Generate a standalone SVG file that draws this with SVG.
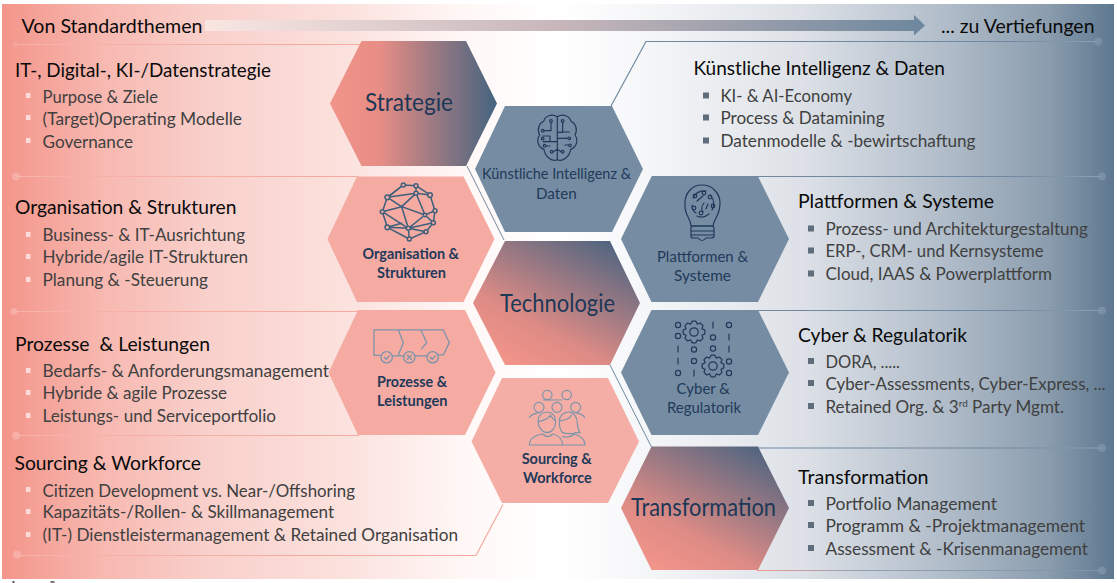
<svg xmlns="http://www.w3.org/2000/svg" width="1117" height="583" viewBox="0 0 1117 583">
<style>
text{font-family:"Lato","Liberation Sans",sans-serif}
.t{font-size:20px;fill:#0a0a0a}
.i{font-size:17px;fill:#404040}
.n{font-size:14.500px;fill:#1f3a5a;text-anchor:start}
.b{font-weight:700}
.big{font-size:24.500px;fill:#1c3857}
.bl{fill:#fbdcd8}
.br{fill:#5f6c7b}
.lineL{stroke:url(#fadeL);stroke-width:1.2;fill:none}
.lineR{stroke:url(#fadeR);stroke-width:1.2;fill:none}
.dotL{fill:#f7b3ab}
.dotR{fill:#7f95a9;opacity:.75}
.ic{fill:none;stroke-linecap:round;stroke-linejoin:round}
</style>
<defs>
<linearGradient id="bg" gradientUnits="userSpaceOnUse" x1="2" y1="0" x2="1114" y2="0">
<stop offset="0" stop-color="#f4958a"/>
<stop offset="0.09" stop-color="#f7b8b0"/>
<stop offset="0.18" stop-color="#f9cfca"/>
<stop offset="0.3" stop-color="#fbe0dc"/>
<stop offset="0.42" stop-color="#fff8f7"/>
<stop offset="0.5" stop-color="#ffffff"/>
<stop offset="0.58" stop-color="#f5f6f8"/>
<stop offset="0.72" stop-color="#dde1e7"/>
<stop offset="0.85" stop-color="#b0bcc9"/>
<stop offset="0.94" stop-color="#8b9dae"/>
<stop offset="1" stop-color="#5e7890"/>
</linearGradient>
<linearGradient id="arrow" gradientUnits="userSpaceOnUse" x1="205" y1="0" x2="925" y2="0">
<stop offset="0" stop-color="#f9e6e3"/>
<stop offset="0.5" stop-color="#c6b6ba"/>
<stop offset="1" stop-color="#6d879e"/>
</linearGradient>
<linearGradient id="gs" x1="0" y1="0" x2="1" y2="0">
<stop offset="0" stop-color="#f2948a"/>
<stop offset="0.3" stop-color="#e78d85"/>
<stop offset="1" stop-color="#44637f"/>
</linearGradient>
<linearGradient id="gd" x1="0.15" y1="0.95" x2="0.85" y2="0">
<stop offset="0" stop-color="#f2948a"/>
<stop offset="0.3" stop-color="#dd8b85"/>
<stop offset="1" stop-color="#4d6480"/>
</linearGradient>
<linearGradient id="fadeL" gradientUnits="userSpaceOnUse" x1="15" y1="0" x2="360" y2="0">
<stop offset="0" stop-color="#f7b3ab"/>
<stop offset="1" stop-color="#f5a99f"/>
</linearGradient>
<linearGradient id="fadeR" gradientUnits="userSpaceOnUse" x1="650" y1="0" x2="1100" y2="0">
<stop offset="0" stop-color="#6f88a0"/>
<stop offset="0.8" stop-color="#7089a0"/>
<stop offset="1" stop-color="#8fa2b4"/>
</linearGradient>
<linearGradient id="fadeB" gradientUnits="userSpaceOnUse" x1="758" y1="0" x2="1100" y2="0">
<stop offset="0" stop-color="#ee9a90"/>
<stop offset="0.3" stop-color="#8fa0b3"/>
<stop offset="1" stop-color="#7f95a9"/>
</linearGradient>
<polygon id="gear" points="10.8,1.9 7.9,3.3 9,6.3 6.3,9 3.3,7.9 1.9,10.8 -1.9,10.8 -3.3,7.9 -6.3,9 -9,6.3 -7.9,3.3 -10.8,1.9 -10.8,-1.9 -7.9,-3.3 -9,-6.3 -6.3,-9 -3.3,-7.9 -1.9,-10.8 1.9,-10.8 3.3,-7.9 6.3,-9 9,-6.3 7.9,-3.3 10.8,-1.9"/>
</defs>

<rect x="2" y="4" width="1112" height="575" fill="url(#bg)"/>
<rect x="12.500" y="581" width="2" height="2" fill="#555"/><rect x="50.500" y="581" width="4" height="2" fill="#777"/>

<g id="connectors">
<path id="timeline-arrow" d="M205 20H914V15L925 25.500L914 35.500V31H205Z" fill="url(#arrow)"/>
<path class="lineL" d="M15 44.500H361"/><circle class="dotL" cx="15" cy="44.500" r="3" opacity=".35"/>
<path class="lineL" d="M16 176.500H358"/><circle class="dotL" cx="16" cy="176.500" r="4" opacity=".8"/>
<path class="lineL" d="M14 311.500H359"/><circle class="dotL" cx="14" cy="311.500" r="3.500" opacity=".8"/>
<path class="lineL" d="M16 435.500H359"/><circle class="dotL" cx="16" cy="435.500" r="4" opacity=".8"/>
<path class="lineL" d="M17 555.500H476L503 504.500"/><circle class="dotL" cx="17" cy="554.500" r="4" opacity=".8"/>
<path d="M467 166L504 240" stroke="#7089a0" stroke-width="1" fill="none"/>
<path d="M610 365L651.500 447" stroke="#7089a0" stroke-width="1" fill="none"/>
<path class="lineR" d="M611 106L646 41.500H1098"/><circle class="dotR" cx="1098" cy="41.500" r="4"/>
<path class="lineR" d="M652 176.500H1102"/><circle class="dotR" cx="1102" cy="176.500" r="4"/>
<path class="lineR" d="M652 310.500H1102"/><circle class="dotR" cx="1102" cy="310.500" r="4"/>
<path class="lineR" d="M652 448H1102"/><circle class="dotR" cx="1102" cy="448" r="4"/>
<path d="M757 570.500H1102" stroke="url(#fadeB)" stroke-width="1.2" fill="none"/><circle class="dotR" cx="1102" cy="570.500" r="4"/>
</g>

<g id="header">
<text class="t" x="21.500" y="33" textLength="181" lengthAdjust="spacingAndGlyphs">Von Standardthemen</text>
<text class="t" x="941" y="33" textLength="153.500" lengthAdjust="spacingAndGlyphs">... zu Vertiefungen</text>
</g>

<g id="panel-strategie">
<text class="t" x="15" y="77" textLength="256" lengthAdjust="spacingAndGlyphs">IT-, Digital-, KI-/Datenstrategie</text>
<rect class="bl" x="26" y="93" width="4.500" height="5"/><rect class="bl" x="26" y="115" width="4.500" height="5"/><rect class="bl" x="26" y="138" width="4.500" height="5"/>
<text class="i" x="42.500" y="103" textLength="115.500" lengthAdjust="spacingAndGlyphs">Purpose &amp; Ziele</text>
<text class="i" x="42.500" y="125" textLength="199.500" lengthAdjust="spacingAndGlyphs">(Target)Operating Modelle</text>
<text class="i" x="42.500" y="148" textLength="90.500" lengthAdjust="spacingAndGlyphs">Governance</text>
</g>
<g id="panel-organisation">
<text class="t" x="15" y="214" textLength="221.500" lengthAdjust="spacingAndGlyphs">Organisation &amp; Strukturen</text>
<rect class="bl" x="26" y="232" width="4.500" height="5"/><rect class="bl" x="26" y="254" width="4.500" height="5"/><rect class="bl" x="26" y="277" width="4.500" height="5"/>
<text class="i" x="42.500" y="241" textLength="202.500" lengthAdjust="spacingAndGlyphs">Business- &amp; IT-Ausrichtung</text>
<text class="i" x="42.500" y="263" textLength="205.500" lengthAdjust="spacingAndGlyphs">Hybride/agile IT-Strukturen</text>
<text class="i" x="42.500" y="286" textLength="165.500" lengthAdjust="spacingAndGlyphs">Planung &amp; -Steuerung</text>
</g>
<g id="panel-prozesse">
<text class="t" x="15" y="351" textLength="195" lengthAdjust="spacingAndGlyphs" xml:space="preserve">Prozesse  &amp; Leistungen</text>
<rect class="bl" x="26" y="368" width="4.500" height="5"/><rect class="bl" x="26" y="390" width="4.500" height="5"/><rect class="bl" x="26" y="413" width="4.500" height="5"/>
<text class="i" x="42.500" y="377" textLength="286.500" lengthAdjust="spacingAndGlyphs">Bedarfs- &amp; Anforderungsmanagement</text>
<text class="i" x="42.500" y="399" textLength="184.500" lengthAdjust="spacingAndGlyphs">Hybride &amp; agile Prozesse</text>
<text class="i" x="42.500" y="422" textLength="233.500" lengthAdjust="spacingAndGlyphs">Leistungs- und Serviceportfolio</text>
</g>
<g id="panel-sourcing">
<text class="t" x="14.500" y="470" textLength="186.500" lengthAdjust="spacingAndGlyphs">Sourcing &amp; Workforce</text>
<rect class="bl" x="26" y="487" width="4.500" height="5"/><rect class="bl" x="26" y="509" width="4.500" height="5"/><rect class="bl" x="26" y="532" width="4.500" height="5"/>
<text class="i" x="42.500" y="497" textLength="312.500" lengthAdjust="spacingAndGlyphs">Citizen Development vs. Near-/Offshoring</text>
<text class="i" x="42.500" y="518" textLength="291.500" lengthAdjust="spacingAndGlyphs">Kapazitäts-/Rollen- &amp; Skillmanagement</text>
<text class="i" x="42.500" y="541" textLength="415.500" lengthAdjust="spacingAndGlyphs">(IT-) Dienstleistermanagement &amp; Retained Organisation</text>
</g>

<g id="panel-ki">
<text class="t" x="693.500" y="75" textLength="251.500" lengthAdjust="spacingAndGlyphs">Künstliche Intelligenz &amp; Daten</text>
<rect class="br" x="703" y="92.500" width="6" height="6"/><rect class="br" x="703" y="114.500" width="6" height="6"/><rect class="br" x="703" y="137.500" width="6" height="6"/>
<text class="i" x="720.500" y="102" textLength="131.500" lengthAdjust="spacingAndGlyphs">KI- &amp; AI-Economy</text>
<text class="i" x="720.500" y="124" textLength="164" lengthAdjust="spacingAndGlyphs">Process &amp; Datamining</text>
<text class="i" x="720.500" y="147" textLength="255" lengthAdjust="spacingAndGlyphs">Datenmodelle &amp; -bewirtschaftung</text>
</g>
<g id="panel-plattformen">
<text class="t" x="798" y="208" textLength="196" lengthAdjust="spacingAndGlyphs">Plattformen &amp; Systeme</text>
<rect class="br" x="808" y="225.500" width="6" height="6"/><rect class="br" x="808" y="247.500" width="6" height="6"/><rect class="br" x="808" y="270.500" width="6" height="6"/>
<text class="i" x="825.500" y="235" textLength="262.500" lengthAdjust="spacingAndGlyphs">Prozess- und Architekturgestaltung</text>
<text class="i" x="825.500" y="257" textLength="218" lengthAdjust="spacingAndGlyphs">ERP-, CRM- und Kernsysteme</text>
<text class="i" x="825.500" y="280" textLength="226.500" lengthAdjust="spacingAndGlyphs">Cloud, IAAS &amp; Powerplattform</text>
</g>
<g id="panel-cyber">
<text class="t" x="798" y="341.700" textLength="169" lengthAdjust="spacingAndGlyphs">Cyber &amp; Regulatorik</text>
<rect class="br" x="808" y="358" width="6" height="6"/><rect class="br" x="808" y="380" width="6" height="6"/><rect class="br" x="808" y="403" width="6" height="6"/>
<text class="i" x="825.500" y="368" textLength="74.500" lengthAdjust="spacingAndGlyphs">DORA, .....</text>
<text class="i" x="825.500" y="390" textLength="280" lengthAdjust="spacingAndGlyphs">Cyber-Assessments, Cyber-Express, ...</text>
<text class="i" x="825.500" y="413" textLength="238.500" lengthAdjust="spacingAndGlyphs">Retained Org. &amp; 3<tspan font-size="10" dy="-6">rd</tspan><tspan dy="6"> Party Mgmt.</tspan></text>
</g>
<g id="panel-transformation">
<text class="t" x="798" y="484" textLength="130.500" lengthAdjust="spacingAndGlyphs">Transformation</text>
<rect class="br" x="808" y="500" width="6" height="6"/><rect class="br" x="808" y="522" width="6" height="6"/><rect class="br" x="808" y="545" width="6" height="6"/>
<text class="i" x="825.500" y="510" textLength="171.500" lengthAdjust="spacingAndGlyphs">Portfolio Management</text>
<text class="i" x="825.500" y="532" textLength="259.500" lengthAdjust="spacingAndGlyphs">Programm &amp; -Projektmanagement</text>
<text class="i" x="825.500" y="555" textLength="262.500" lengthAdjust="spacingAndGlyphs">Assessment &amp; -Krisenmanagement</text>
</g>

<g id="node-strategie">
<polygon points="361.500,41 466,41 497,103.500 466,166 361.500,166 330,103.500" fill="url(#gs)"/>
<text class="big" x="365" y="110.700" textLength="88" lengthAdjust="spacingAndGlyphs">Strategie</text>
</g>

<g id="node-organisation">
<polygon points="357,176.500 463.500,176.500 494.500,239 463.500,302 357,302 327.500,239" fill="#f5aaa2"/>
<g transform="translate(350 170) scale(.3333)" class="ic" stroke="#3f607c" stroke-width="4.500">
<path d="M160 45L198 47L240 75L255 122L250 158L228 185L178 207L112 172L97 125L112 82Z"/>
<path d="M160 45L112 82L198 70L198 47M198 70L240 75M198 70L155 110L112 82M155 110L97 125M155 110L225 135L198 70M225 135L255 122M225 135L250 158M225 135L175 175L155 110M175 175L112 172M175 175L250 158M175 175L228 185M175 175L178 207M97 125L175 175M155 160L112 172"/>
<g fill="#f5aaa2"><circle cx="160" cy="45" r="6"/><circle cx="198" cy="47" r="6"/><circle cx="112" cy="82" r="7"/><circle cx="198" cy="70" r="6"/><circle cx="240" cy="75" r="7"/><circle cx="97" cy="125" r="6"/><circle cx="255" cy="122" r="6"/><circle cx="225" cy="135" r="5"/><circle cx="112" cy="172" r="7"/><circle cx="175" cy="175" r="6"/><circle cx="250" cy="158" r="6"/><circle cx="228" cy="185" r="6"/><circle cx="178" cy="207" r="6"/></g>
</g>
<text class="n b" x="362.500" y="258.700" textLength="96.500" lengthAdjust="spacingAndGlyphs">Organisation &amp;</text>
<text class="n b" x="377" y="277.700" textLength="69" lengthAdjust="spacingAndGlyphs">Strukturen</text>
</g>

<g id="node-prozesse">
<polygon points="358,310 465,310 495.500,372.500 465,435 358,435 328.500,372.500" fill="#f5aaa2"/>
<g transform="translate(350 170) scale(.3333)" class="ic" stroke="#7b94aa" stroke-width="3.800">
<path d="M90 556H72V480H280L298 518L280 555H266M145 480L160 518L145 555M213 480L230 518L215 536M128 558H160M196 558H230"/>
<circle cx="110" cy="562" r="17"/><circle cx="178" cy="562" r="17"/><circle cx="248" cy="562" r="17"/>
<path d="M103 562L109 568L118 557M172 556L184 568M184 556L172 568M241 562L247 568L256 557"/>
</g>
<text class="n b" x="377" y="386.700" textLength="70" lengthAdjust="spacingAndGlyphs">Prozesse &amp;</text>
<text class="n b" x="377" y="406" textLength="70.500" lengthAdjust="spacingAndGlyphs">Leistungen</text>
</g>

<g id="node-ki">
<polygon points="505,106 612,106 643,169 612,232 505,232 475,169" fill="#758ca2"/>
<g transform="translate(470 100) scale(.3333)" class="ic" stroke="#1f3a5a" stroke-width="3.500">
<path d="M262 50C245 40 225 48 221 64C207 70 200 90 209 105C198 120 204 142 222 148C225 170 247 187 262 179M262 50V179M243 68V92H222M243 68V66M262 125H220M240 125V108H218M240 138H225M245 158L262 148M245 158V152"/>
<path d="M262 50C279 40 299 48 303 64C317 70 324 90 315 105C326 120 320 142 302 148C299 170 277 187 262 179M278 66V97H262M298 96H276M298 115H262M285 135H302M278 158L262 148M278 158V152"/>
<g fill="#758ca2"><circle cx="243" cy="63" r="4"/><circle cx="278" cy="63" r="4"/><circle cx="218" cy="92" r="4"/><circle cx="218" cy="116" r="4"/><circle cx="298" cy="115" r="4"/><circle cx="224" cy="137" r="4"/><circle cx="300" cy="136" r="4"/><circle cx="245" cy="155" r="4"/><circle cx="278" cy="155" r="4"/></g>
</g>
<text class="n" x="482" y="179.300" textLength="149" lengthAdjust="spacingAndGlyphs">Künstliche Intelligenz &amp;</text>
<text class="n" x="536" y="198.700" textLength="40.700" lengthAdjust="spacingAndGlyphs">Daten</text>
</g>

<g id="node-technologie">
<polygon points="505,241 610,241 640,303 610,365 505,365 473,303" fill="url(#gd)"/>
<text class="big" x="500" y="312" textLength="115" lengthAdjust="spacingAndGlyphs">Technologie</text>
</g>

<g id="node-sourcing">
<polygon points="502,378 608,378 639,441.500 608,503 502,503 471.500,441.500" fill="#f5aea6"/>
<g transform="translate(490 310) scale(.3333)" class="ic" stroke="#7b94aa" stroke-width="3.500">
<circle cx="172" cy="255" r="14"/><circle cx="230" cy="255" r="14"/><circle cx="147" cy="292" r="15"/><circle cx="201" cy="292" r="15"/><circle cx="257" cy="292" r="15"/>
<path d="M118 322C125 312 135 310 147 308M284 322C277 312 267 310 257 308M160 270H215"/>
<path d="M144 333C144 318 155 306 171 306C187 306 197 318 197 335C197 352 185 368 171 368C157 368 144 352 144 333ZM144 335C160 332 175 325 181 316C186 325 192 330 197 333"/>
<path d="M208 335C208 318 220 306 235 306C250 306 262 320 262 338C262 350 266 362 270 368H256C250 372 222 372 216 366C210 358 208 345 208 335ZM210 332C225 332 240 325 245 315"/>
<path d="M118 405C118 385 135 376 158 372C168 382 178 382 188 372C205 376 218 388 218 405ZM218 380C228 382 242 382 252 372C270 376 285 388 285 405H218"/>
</g>
<text class="n b" x="521.700" y="464" textLength="70" lengthAdjust="spacingAndGlyphs">Sourcing &amp;</text>
<text class="n b" x="523" y="482.700" textLength="68.700" lengthAdjust="spacingAndGlyphs">Workforce</text>
</g>

<g id="node-plattformen">
<polygon points="651.500,176.500 758,176.500 789,239 758,302 651.500,302 621,239" fill="#758ca2"/>
<g class="ic" stroke="#1f3a5a" stroke-width="1.200">
<path d="M691 226C691 218 684 216 685 203C685 193 692 185 702 185C712 185 720 193 720 203C720 216 714 218 713 226Z"/>
<path d="M692 226H712Q714 226 714 229V236Q714 238 711 238H706Q702 243 698 238H693Q691 238 691 236V229Q691 226 692 226ZM691 231H714M691 235H714"/>
<path d="M693 198Q697 190 706 191M697 201L703 196M711 196Q716 203 712 210M709 214Q703 219 697 216M692 205Q692 211 696 213M704 203Q700 208 703 212M708 204L706 209"/>
<circle cx="695" cy="196" r="1.800"/><circle cx="704" cy="193" r="1.800"/><circle cx="710" cy="197" r="1.800"/><circle cx="713" cy="206" r="1.800"/><circle cx="701" cy="213" r="1.800"/><circle cx="694" cy="208" r="1.800"/>
</g>
<text class="n" x="657" y="261.700" textLength="91" lengthAdjust="spacingAndGlyphs">Plattformen &amp;</text>
<text class="n" x="674" y="281" textLength="57" lengthAdjust="spacingAndGlyphs">Systeme</text>
</g>

<g id="node-cyber">
<polygon points="651.500,310 758,310 789,372.500 758,435 651.500,435 621,372.500" fill="#758ca2"/>
<g class="ic" stroke="#1f3a5a" stroke-width="1.200">
<use href="#gear" transform="translate(694 332)"/><circle cx="694" cy="332" r="4.200"/>
<use href="#gear" transform="translate(713 366)"/><circle cx="713" cy="366" r="4.200"/>
<circle cx="678" cy="325" r="2.600"/><circle cx="678" cy="336" r="2.600"/><circle cx="729" cy="325" r="2.600"/><circle cx="713" cy="337.500" r="2.600"/><circle cx="694" cy="349.500" r="2.600"/><circle cx="713" cy="348.500" r="2.600"/><circle cx="694" cy="361" r="2.600"/><circle cx="729" cy="361.500" r="2.600"/><circle cx="678" cy="373" r="2.600"/><circle cx="729" cy="373" r="2.600"/>
<path d="M713 322V328M729 334V340M678 346V352M729 346V352M678 358V364M694 370V376"/>
</g>
<text class="n" x="676.600" y="394" textLength="53.400" lengthAdjust="spacingAndGlyphs">Cyber &amp;</text>
<text class="n" x="667" y="413" textLength="74" lengthAdjust="spacingAndGlyphs">Regulatorik</text>
</g>

<g id="node-transformation">
<polygon points="651.500,446.500 758,446.500 789,508 758,570 651.500,570 621,508" fill="url(#gd)"/>
<text class="big" x="631" y="515.700" textLength="145" lengthAdjust="spacingAndGlyphs">Transformation</text>
</g>
</svg>
